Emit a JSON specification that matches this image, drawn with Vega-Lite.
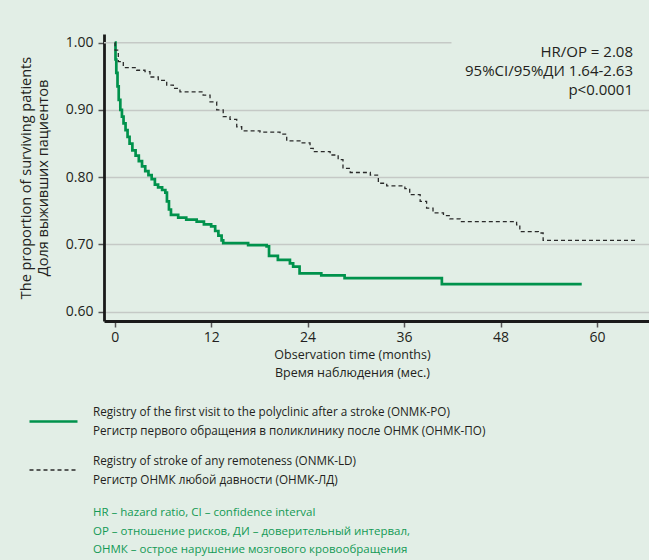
{
  "$schema": "https://vega.github.io/schema/vega-lite/v6.json",
  "width": 545,
  "height": 287,
  "autosize": {"type": "none"},
  "padding": {"left": 104, "top": 34, "right": 0, "bottom": 239},
  "background": "#e2eee6",
  "config": {
    "font": "Open Sans",
    "view": {"stroke": null},
    "axis": {"labelColor": "#231f20", "titleColor": "#231f20", "titleFontWeight": "normal"}
  },
  "title": {
    "text": ["HR – hazard ratio, CI – confidence interval", "OP – отношение рисков, ДИ – доверительный интервал,", "ОНМК – острое нарушение мозгового кровообращения"],
    "orient": "bottom",
    "anchor": "start",
    "frame": "group",
    "align": "left",
    "color": "#139a55",
    "fontSize": 11.5,
    "fontWeight": "normal",
    "lineHeight": 18.5,
    "offset": 20,
    "dx": -11
  },
  "datasets": {
    "curves": [
      {"month": 0, "survival": 1.0, "group": "ONMK-PO"},
      {"month": 0.1, "survival": 0.975, "group": "ONMK-PO"},
      {"month": 0.2, "survival": 0.955, "group": "ONMK-PO"},
      {"month": 0.35, "survival": 0.935, "group": "ONMK-PO"},
      {"month": 0.5, "survival": 0.915, "group": "ONMK-PO"},
      {"month": 0.7, "survival": 0.9, "group": "ONMK-PO"},
      {"month": 0.9, "survival": 0.89, "group": "ONMK-PO"},
      {"month": 1.1, "survival": 0.88, "group": "ONMK-PO"},
      {"month": 1.35, "survival": 0.87, "group": "ONMK-PO"},
      {"month": 1.6, "survival": 0.86, "group": "ONMK-PO"},
      {"month": 1.85, "survival": 0.85, "group": "ONMK-PO"},
      {"month": 2.2, "survival": 0.84, "group": "ONMK-PO"},
      {"month": 2.6, "survival": 0.832, "group": "ONMK-PO"},
      {"month": 3.0, "survival": 0.824, "group": "ONMK-PO"},
      {"month": 3.4, "survival": 0.816, "group": "ONMK-PO"},
      {"month": 3.8, "survival": 0.809, "group": "ONMK-PO"},
      {"month": 4.2, "survival": 0.803, "group": "ONMK-PO"},
      {"month": 4.6, "survival": 0.797, "group": "ONMK-PO"},
      {"month": 5.0, "survival": 0.789, "group": "ONMK-PO"},
      {"month": 5.4, "survival": 0.785, "group": "ONMK-PO"},
      {"month": 5.9, "survival": 0.781, "group": "ONMK-PO"},
      {"month": 6.3, "survival": 0.777, "group": "ONMK-PO"},
      {"month": 6.5, "survival": 0.764, "group": "ONMK-PO"},
      {"month": 6.75, "survival": 0.752, "group": "ONMK-PO"},
      {"month": 7.0, "survival": 0.744, "group": "ONMK-PO"},
      {"month": 7.9, "survival": 0.74, "group": "ONMK-PO"},
      {"month": 8.9, "survival": 0.737, "group": "ONMK-PO"},
      {"month": 10.2, "survival": 0.734, "group": "ONMK-PO"},
      {"month": 11.1, "survival": 0.73, "group": "ONMK-PO"},
      {"month": 12.0, "survival": 0.727, "group": "ONMK-PO"},
      {"month": 12.5, "survival": 0.72, "group": "ONMK-PO"},
      {"month": 12.9, "survival": 0.713, "group": "ONMK-PO"},
      {"month": 13.3, "survival": 0.706, "group": "ONMK-PO"},
      {"month": 13.5, "survival": 0.702, "group": "ONMK-PO"},
      {"month": 16.6, "survival": 0.699, "group": "ONMK-PO"},
      {"month": 18.9, "survival": 0.697, "group": "ONMK-PO"},
      {"month": 19.2, "survival": 0.683, "group": "ONMK-PO"},
      {"month": 20.3, "survival": 0.677, "group": "ONMK-PO"},
      {"month": 21.8, "survival": 0.672, "group": "ONMK-PO"},
      {"month": 22.2, "survival": 0.667, "group": "ONMK-PO"},
      {"month": 23.0, "survival": 0.657, "group": "ONMK-PO"},
      {"month": 25.7, "survival": 0.654, "group": "ONMK-PO"},
      {"month": 28.6, "survival": 0.65, "group": "ONMK-PO"},
      {"month": 40.7, "survival": 0.641, "group": "ONMK-PO"},
      {"month": 58.1, "survival": 0.641, "group": "ONMK-PO"},
      {"month": 0, "survival": 1.0, "group": "ONMK-LD"},
      {"month": 0.05, "survival": 0.989, "group": "ONMK-LD"},
      {"month": 0.45, "survival": 0.972, "group": "ONMK-LD"},
      {"month": 1.07, "survival": 0.963, "group": "ONMK-LD"},
      {"month": 2.74, "survival": 0.959, "group": "ONMK-LD"},
      {"month": 3.77, "survival": 0.957, "group": "ONMK-LD"},
      {"month": 4.39, "survival": 0.949, "group": "ONMK-LD"},
      {"month": 5.42, "survival": 0.944, "group": "ONMK-LD"},
      {"month": 6.47, "survival": 0.937, "group": "ONMK-LD"},
      {"month": 7.29, "survival": 0.932, "group": "ONMK-LD"},
      {"month": 8.12, "survival": 0.927, "group": "ONMK-LD"},
      {"month": 11.0, "survival": 0.922, "group": "ONMK-LD"},
      {"month": 11.86, "survival": 0.912, "group": "ONMK-LD"},
      {"month": 12.69, "survival": 0.9, "group": "ONMK-LD"},
      {"month": 13.5, "survival": 0.89, "group": "ONMK-LD"},
      {"month": 14.34, "survival": 0.886, "group": "ONMK-LD"},
      {"month": 15.18, "survival": 0.875, "group": "ONMK-LD"},
      {"month": 15.8, "survival": 0.869, "group": "ONMK-LD"},
      {"month": 18.08, "survival": 0.867, "group": "ONMK-LD"},
      {"month": 20.57, "survival": 0.864, "group": "ONMK-LD"},
      {"month": 21.4, "survival": 0.854, "group": "ONMK-LD"},
      {"month": 23.05, "survival": 0.851, "group": "ONMK-LD"},
      {"month": 24.3, "survival": 0.843, "group": "ONMK-LD"},
      {"month": 24.7, "survival": 0.838, "group": "ONMK-LD"},
      {"month": 26.8, "survival": 0.833, "group": "ONMK-LD"},
      {"month": 27.8, "survival": 0.826, "group": "ONMK-LD"},
      {"month": 28.4, "survival": 0.813, "group": "ONMK-LD"},
      {"month": 29.3, "survival": 0.807, "group": "ONMK-LD"},
      {"month": 31.8, "survival": 0.803, "group": "ONMK-LD"},
      {"month": 32.8, "survival": 0.791, "group": "ONMK-LD"},
      {"month": 33.84, "survival": 0.787, "group": "ONMK-LD"},
      {"month": 36.1, "survival": 0.783, "group": "ONMK-LD"},
      {"month": 36.7, "survival": 0.774, "group": "ONMK-LD"},
      {"month": 38.0, "survival": 0.764, "group": "ONMK-LD"},
      {"month": 38.8, "survival": 0.754, "group": "ONMK-LD"},
      {"month": 39.6, "survival": 0.747, "group": "ONMK-LD"},
      {"month": 40.9, "survival": 0.743, "group": "ONMK-LD"},
      {"month": 41.7, "survival": 0.738, "group": "ONMK-LD"},
      {"month": 42.97, "survival": 0.734, "group": "ONMK-LD"},
      {"month": 50.0, "survival": 0.729, "group": "ONMK-LD"},
      {"month": 50.4, "survival": 0.719, "group": "ONMK-LD"},
      {"month": 52.7, "survival": 0.717, "group": "ONMK-LD"},
      {"month": 53.3, "survival": 0.706, "group": "ONMK-LD"},
      {"month": 65.1, "survival": 0.706, "group": "ONMK-LD"}
    ]
  },
  "layer": [
    {
      "data": {"values": [{}]},
      "mark": {"type": "rule", "color": "#c5c9c6", "strokeWidth": 1.5},
      "encoding": {
        "x": {"datum": -1.331, "type": "quantitative"},
        "x2": {"datum": 41.9},
        "y": {"datum": 1, "type": "quantitative"}
      }
    },
    {
      "data": {"name": "curves"},
      "mark": {"type": "line", "interpolate": "step-after"},
      "encoding": {
        "x": {
          "field": "month",
          "type": "quantitative",
          "scale": {"domain": [-1.331, 66.47], "nice": false, "zero": false},
          "axis": {
            "values": [0, 12, 24, 36, 48, 60],
            "grid": false,
            "domainColor": "#1a1a1a",
            "domainWidth": 2.8,
            "tickColor": "#555555",
            "tickWidth": 1.5,
            "tickSize": 6,
            "labelFontSize": 14,
            "labelPadding": 3,
            "title": ["Observation time (months)", "Время наблюдения (мес.)"],
            "titleFontSize": 12.5,
            "titleLineHeight": 18,
            "titleX": 248,
            "titleY": 27,
            "titleBaseline": "top",
            "titleAlign": "center"
          }
        },
        "y": {
          "field": "survival",
          "type": "quantitative",
          "scale": {"domain": [0.58617, 1.01294], "nice": false, "zero": false},
          "axis": {
            "values": [0.6, 0.7, 0.8, 0.9, 1.0],
            "format": ".2f",
            "grid": true,
            "gridColor": {"condition": {"test": "datum.value >= 0.999", "value": "transparent"}, "value": "#c5c9c6"},
            "gridWidth": 1.5,
            "domainColor": "#1a1a1a",
            "domainWidth": 2.8,
            "tickColor": "#555555",
            "tickWidth": 1.5,
            "tickSize": 6,
            "labelFontSize": 14,
            "labelPadding": 5,
            "title": ["The proportion of surviving patients", "Доля выживших пациентов"],
            "titleFontSize": 14.5,
            "titleLineHeight": 17,
            "titleAngle": 270,
            "titleX": -78,
            "titleY": 143.5,
            "titleBaseline": "middle",
            "titleAlign": "center"
          }
        },
        "color": {
          "field": "group",
          "type": "nominal",
          "scale": {"domain": ["ONMK-PO", "ONMK-LD"], "range": ["#00924c", "#2a2a2a"]},
          "legend": {
            "orient": "none",
            "legendX": -76,
            "legendY": 362,
            "title": null,
            "symbolType": "stroke",
            "symbolSize": 2304,
            "labelOffset": 14,
            "labelFontSize": 11.7,
            "labelColor": "#231f20",
            "labelLimit": 1000,
            "rowPadding": 7,
            "padding": 0,
            "labelExpr": "datum.label == 'ONMK-PO' ? ['Registry of the first visit to the polyclinic after a stroke (ONMK-PO)', 'Регистр первого обращения в поликлинику после ОНМК (ОНМК-ПО)'] : ['Registry of stroke of any remoteness (ONMK-LD)', 'Регистр ОНМК любой давности (ОНМК-ЛД)']",
            "encode": {"labels": {"update": {"lineHeight": {"value": 19}, "dy": {"value": -9.5}}}}
          }
        },
        "strokeDash": {
          "field": "group",
          "type": "nominal",
          "scale": {"domain": ["ONMK-PO", "ONMK-LD"], "range": [[1, 0], [4, 3]]},
          "legend": null
        },
        "strokeWidth": {
          "field": "group",
          "type": "nominal",
          "scale": {"domain": ["ONMK-PO", "ONMK-LD"], "range": [2.7, 1.3]},
          "legend": null
        }
      }
    },
    {
      "data": {"values": [{}]},
      "mark": {"type": "text", "align": "right", "baseline": "top", "fontSize": 15, "lineHeight": 19, "color": "#231f20"},
      "encoding": {
        "x": {"datum": 64.48, "type": "quantitative"},
        "y": {"datum": 0.9964, "type": "quantitative"},
        "text": {"value": ["HR/OP = 2.08", "95%CI/95%ДИ 1.64-2.63", "p<0.0001"]}
      }
    }
  ]
}
